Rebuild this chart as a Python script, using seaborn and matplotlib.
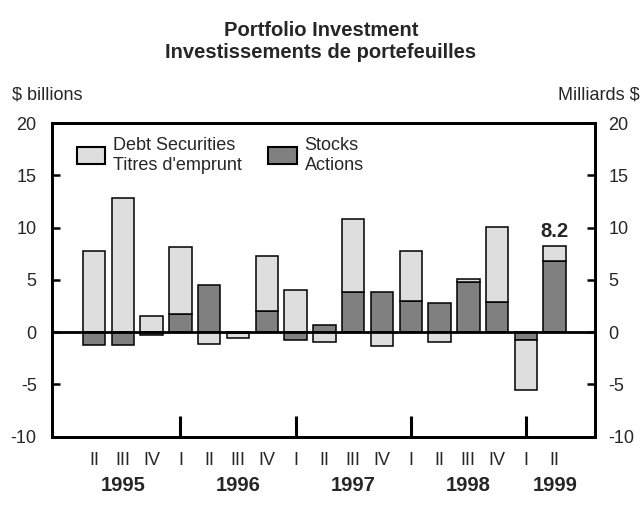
import matplotlib

matplotlib.use("Agg")
import matplotlib.pyplot as plt
import numpy as np
import pandas as pd
import seaborn as sns
from matplotlib.patches import Patch

# quarterly flows, $ billions
quarters = ["II", "III", "IV",
            "I", "II", "III", "IV",
            "I", "II", "III", "IV",
            "I", "II", "III", "IV",
            "I", "II"]
years = [1995] * 3 + [1996] * 4 + [1997] * 4 + [1998] * 4 + [1999] * 2
debt = [7.8, 12.8, 1.5, 6.4, -1.1, -0.5, 5.3, 4.0, -0.9, 7.0, -1.3,
        4.8, -0.9, 0.3, 7.2, -4.7, 1.4]
stocks = [-1.2, -1.2, -0.3, 1.7, 4.5, -0.1, 2.0, -0.8, 0.7, 3.8, 3.8,
          3.0, 2.8, 4.8, 2.9, -0.8, 6.8]

yticks = [-10, -5, 0, 5, 10, 15, 20]
LIGHT = "#dedede"
DARK = "#808080"

df = pd.DataFrame({"year": years, "quarter": quarters, "debt": debt, "stocks": stocks})
df["key"] = df["year"].astype(str) + " " + df["quarter"]
# debt sits on top of stocks when both go the same way, otherwise starts at zero
same_sign = np.sign(df["debt"]) == np.sign(df["stocks"])
df["debt_base"] = np.where(same_sign, df["stocks"], 0.0)

sns.set_theme(style="white")
plt.rcParams["font.family"] = ["Liberation Sans", "DejaVu Sans"]

fig = plt.figure(figsize=(6.42, 5.14), dpi=100)
ax = fig.add_axes([0.081, 0.1504, 0.8458, 0.6103])

bar_kw = dict(errorbar=None, saturation=1, width=0.78, edgecolor="black",
              linewidth=1.1, ax=ax)
sns.barplot(data=df, x="key", y="stocks", color=DARK, zorder=2, **bar_kw)
sns.barplot(data=df, x="key", y="debt", color=LIGHT, zorder=2,
            bottom=df["debt_base"].to_numpy(), **bar_kw)

ax.axhline(0, color="black", lw=2, zorder=3)

n = len(df)
ax.set_xlim(-1.46, n - 1 + 1.40)
ax.set_ylim(-10, 20)
ax.set_xlabel("")
ax.set_ylabel("")

# x axis: quarter ticks, longer ones at each first quarter
ax.set_xticks(range(n), quarters, fontsize=13)
ax.tick_params(axis="x", which="major", direction="in", length=5, width=1.8,
               pad=11, color="black")
first_q = [i for i, q in enumerate(quarters) if q == "I"]
ax.xaxis.remove_overlapping_locs = False
ax.set_xticks(first_q, minor=True)
ax.tick_params(axis="x", which="minor", direction="in", length=15, width=2.2,
               bottom=True, color="black")

for yr in sorted(set(years)):
    idx = [i for i, y in enumerate(years) if y == yr]
    qs = [quarters[i] for i in idx]
    pos = idx[qs.index("III")] if "III" in qs else idx[-1]
    ax.text(pos, -0.157, str(yr), transform=ax.get_xaxis_transform(),
            ha="center", va="center", fontsize=14.5, fontweight="bold")

# y axis on both sides
ax.set_yticks(yticks, [str(t) for t in yticks], fontsize=13)
ax.tick_params(axis="y", direction="in", length=5.5, width=1.8, pad=11,
               left=True, color="black")
ax2 = ax.twinx()
ax2.set_ylim(ax.get_ylim())
ax2.set_yticks(yticks, [str(t) for t in yticks], fontsize=13)
ax2.tick_params(axis="y", direction="in", length=5.5, width=1.8, pad=9.5,
                right=True, color="black")

for a in (ax, ax2):
    for s in a.spines.values():
        s.set_linewidth(2)
        s.set_color("black")

# label on the latest bar
last = df.iloc[-1]
ax.annotate(f"{last['debt'] + last['stocks']:.1f}",
            xy=(n - 1, last["debt"] + last["stocks"]), xytext=(0, 4),
            textcoords="offset points", ha="center", va="bottom",
            fontsize=14.5, fontweight="bold")

handles = [
    Patch(facecolor=LIGHT, edgecolor="black", linewidth=1.5,
          label="Debt Securities\nTitres d'emprunt"),
    Patch(facecolor=DARK, edgecolor="black", linewidth=1.5,
          label="Stocks\nActions"),
]
ax.legend(handles=handles, ncol=2, frameon=False, loc="upper left",
          bbox_to_anchor=(0.0455, 0.955), borderpad=0, borderaxespad=0,
          handlelength=1.57, handleheight=1.1, handletextpad=0.44,
          columnspacing=1.46, fontsize=13, labelspacing=0.2)

fig.text(0.5, 1 - 30 / 514, "Portfolio Investment", ha="center", va="center",
         fontsize=14.5, fontweight="bold")
fig.text(0.5, 1 - 52 / 514, "Investissements de portefeuilles", ha="center",
         va="center", fontsize=14.5, fontweight="bold")
fig.text(11.7 / 642, 1 - 95 / 514, "$ billions", ha="left", va="center", fontsize=13)
fig.text(640 / 642, 1 - 95 / 514, "Milliards $", ha="right", va="center", fontsize=13)

fig.savefig("out.png", dpi=100, facecolor="white")
